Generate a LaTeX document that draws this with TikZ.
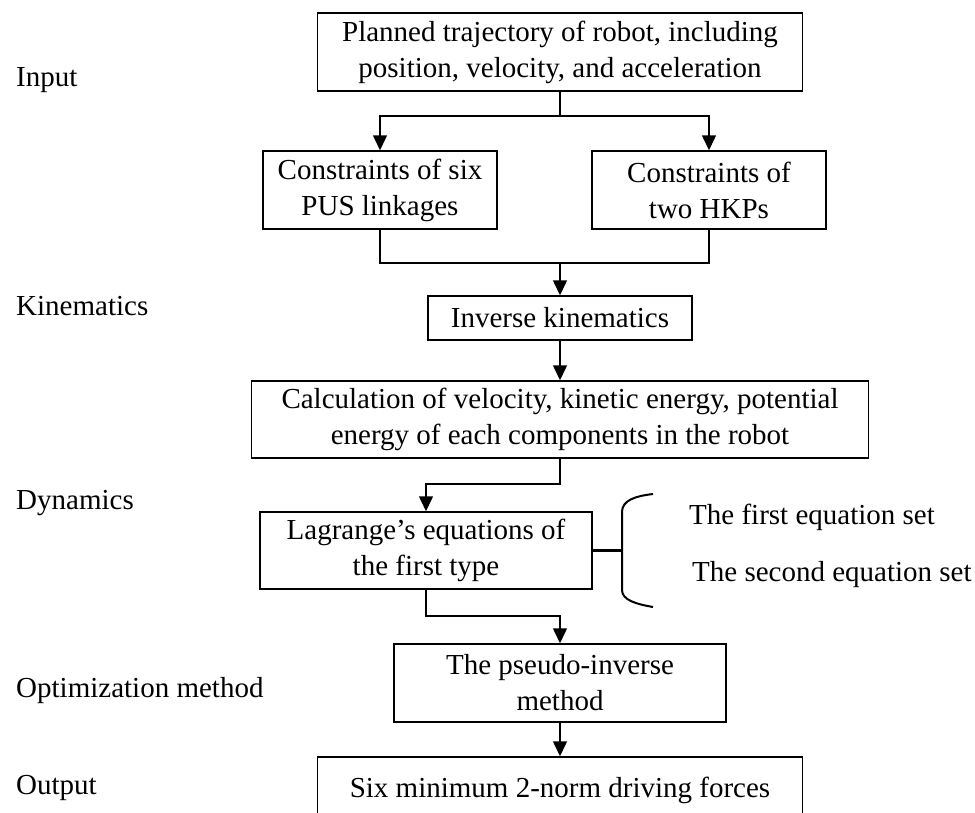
\documentclass[tikz,border=0pt]{standalone}
\usepackage{fontspec}
\setmainfont{Liberation Serif}
\usetikzlibrary{arrows.meta}
\begin{document}
\begin{tikzpicture}[x=1pt,y=-1pt,
  every node/.style={font=\fontsize{29}{36}\selectfont, inner sep=0pt},
  box/.style={draw, line width=1.5pt, align=center},
  lbl/.style={anchor=west},
  conn/.style={line width=1.5pt},
  arr/.style={line width=1.5pt, -{Triangle[width=14pt,length=15pt]}},
  heavy/.style={line width=3.5pt},
  brk/.style={line width=2pt}]
\useasboundingbox (0,0) rectangle (975,812);
\clip (0,0) rectangle (975,812);
% boxes
\node[box, minimum width=485pt, minimum height=78pt] (top) at (560,52)
  {Planned trajectory of robot, including\\position, velocity, and acceleration};
\node[box, minimum width=234pt, minimum height=78pt] (pus) at (380,190)
  {Constraints of six\\PUS linkages};
\node[box, minimum width=234pt, minimum height=78pt] (hkp) at (709,190)
  {Constraints of\\two HKPs};
\node[box, minimum width=264pt, minimum height=44pt] (ik) at (560,318)
  {Inverse kinematics};
\node[box, minimum width=617pt, minimum height=77pt] (calc) at (560,419.5)
  {Calculation of velocity, kinetic energy, potential\\energy of each components in the robot};
\node[box, minimum width=332pt, minimum height=77pt] (lag) at (426,550.5)
  {Lagrange's equations of\\the first type};
\node[box, minimum width=332pt, minimum height=78pt] (pinv) at (560,683)
  {The pseudo-inverse\\method};
\node[draw, line width=1.5pt, minimum width=485pt, minimum height=78pt] (outbox) at (560,796) {};
\node (outtxt) at (560,790) {Six minimum 2-norm driving forces};
% side labels
\node[lbl] (l1) at (16,80) {Input};
\node[lbl] (l2) at (16,306) {Kinematics};
\node[lbl] (l3) at (16,503) {Dynamics};
\node[lbl] (l4) at (16,691) {Optimization method};
\node[lbl] (l5) at (16,788) {Output};
% equation sets
\node[lbl] (eq1) at (689,517) {The first equation set};
\node[lbl] (eq2) at (692,575) {The second equation set};
% connectors
\coordinate (s1) at (560,116);
\draw[conn] (top.south) -- (s1);
\draw[arr] (s1) -| (pus.north);
\draw[arr] (s1) -| (hkp.north);
\coordinate (j1) at (560,263);
\draw[conn] (pus.south) |- (j1);
\draw[conn] (hkp.south) |- (j1);
\draw[arr] (j1) -- (ik.north);
\draw[arr] (ik.south) -- (calc.north);
\coordinate (j2) at (560,484);
\draw[arr] (calc.south) -- (j2) -| (lag.north);
\coordinate (j3) at (560,616);
\draw[arr] (lag.south) |- (j3) -- (pinv.north);
\draw[arr] (pinv.south) -- (outbox.north);
% bracket
\coordinate (bk) at (622,550.5);
\draw[heavy] (lag.east) -- (bk);
\draw[brk] (653,494) .. controls (636,496) and (622,500) .. (622,512)
  -- (622,590) .. controls (622,600) and (636,604) .. (653,607);
\end{tikzpicture}
\end{document}
